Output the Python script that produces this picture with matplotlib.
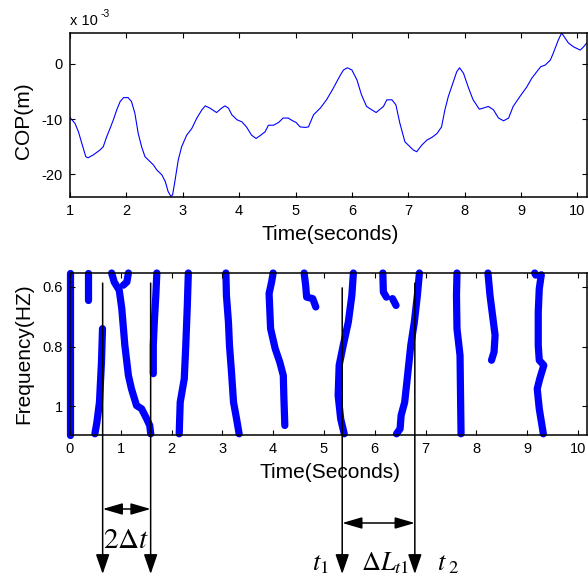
import matplotlib
matplotlib.use("Agg")
import matplotlib.pyplot as plt
import matplotlib.transforms as mtransforms

plt.rcParams["font.family"] = ["Liberation Sans", "DejaVu Sans"]
plt.rcParams["mathtext.fontset"] = "stix"
plt.rcParams["axes.unicode_minus"] = False

# COP trace (units of 1e-3 m)
cop_time = [1.00, 1.09, 1.15, 1.21, 1.28, 1.32, 1.41, 1.53, 1.59, 1.65, 1.71, 1.77, 1.83, 1.89,
            1.95, 2.03, 2.09, 2.15, 2.21, 2.27, 2.33, 2.39, 2.48, 2.54, 2.63, 2.69, 2.74, 2.79,
            2.82, 2.86, 2.92, 2.98, 3.07, 3.16, 3.25, 3.34, 3.40, 3.48, 3.60, 3.69, 3.75, 3.81,
            3.87, 3.96, 4.05, 4.13, 4.22, 4.30, 4.37, 4.46, 4.52, 4.61, 4.70, 4.78, 4.87, 4.95,
            5.01, 5.08, 5.17, 5.23, 5.32, 5.44, 5.55, 5.67, 5.78, 5.85, 5.92, 6.00, 6.09, 6.17,
            6.26, 6.35, 6.43, 6.50, 6.56, 6.62, 6.71, 6.78, 6.85, 6.94, 7.03, 7.09, 7.15, 7.24,
            7.33, 7.42, 7.51, 7.59, 7.65, 7.71, 7.80, 7.86, 7.91, 7.98, 8.07, 8.15, 8.26, 8.33,
            8.42, 8.51, 8.60, 8.69, 8.78, 8.86, 8.98, 9.10, 9.19, 9.28, 9.35, 9.43, 9.52, 9.57,
            9.66, 9.72, 9.78, 9.84, 9.93, 10.05, 10.11, 10.18]
cop_val = [-9.7, -10.8, -12.3, -14.4, -16.8, -17.0, -16.5, -15.6, -15.0, -13.2, -11.7, -10.1, -8.3, -6.8,
           -6.1, -6.1, -6.8, -8.9, -12.6, -15.0, -16.8, -17.4, -18.3, -19.2, -20.1, -21.3, -23.1, -24.0,
           -23.7, -21.3, -17.4, -15.0, -12.9, -11.7, -9.8, -8.3, -7.6, -8.0, -8.8, -8.0, -7.6, -8.0,
           -9.2, -10.1, -10.5, -11.4, -12.9, -13.5, -13.0, -12.3, -11.1, -11.1, -10.6, -9.8, -9.8, -10.3,
           -10.6, -11.4, -11.5, -11.4, -9.2, -8.0, -6.5, -4.4, -2.3, -1.1, -0.7, -1.1, -2.9, -5.6,
           -7.7, -8.3, -8.8, -8.2, -7.7, -6.5, -6.5, -7.4, -10.7, -14.1, -15.0, -15.6, -15.9, -14.7,
           -13.8, -13.3, -12.6, -11.4, -8.3, -5.9, -3.2, -1.4, -0.7, -1.7, -4.4, -6.5, -8.2, -8.0,
           -7.7, -8.3, -9.8, -10.3, -9.8, -7.7, -5.9, -4.2, -2.6, -1.4, -0.5, -0.2, 0.7, 1.9,
           4.3, 5.6, 4.7, 3.8, 3.1, 2.5, 3.1, 4.0]

# frequency ridges (time in s, frequency in Hz)
ridge_times = [
    [0.00, 0.00],
    [0.35, 0.35],
    [0.64, 0.62, 0.58, 0.53, 0.49],
    [0.82, 0.87, 0.97, 1.02, 1.08, 1.15, 1.21, 1.31, 1.41, 1.51, 1.57, 1.59],
    [1.15, 1.12, 1.05],
    [1.71, 1.69, 1.66, 1.64, 1.64],
    [2.33, 2.31, 2.28, 2.25, 2.17, 2.15],
    [3.07, 3.08, 3.12, 3.14, 3.18, 3.22, 3.28, 3.33],
    [4.00, 3.97, 3.92, 3.95, 4.04, 4.13, 4.20, 4.21, 4.23],
    [4.61, 4.64, 4.66, 4.78, 4.84],
    [5.58, 5.55, 5.48, 5.38, 5.30, 5.28, 5.33, 5.40],
    [6.16, 6.17, 6.23],
    [6.35, 6.42],
    [6.88, 6.84, 6.78, 6.71, 6.64, 6.59, 6.52, 6.50, 6.43],
    [7.62, 7.61, 7.62, 7.68, 7.69, 7.70],
    [8.23, 8.27, 8.32, 8.37, 8.35, 8.30],
    [9.15, 9.17],
    [9.28, 9.24, 9.22, 9.22, 9.24, 9.33, 9.25, 9.20, 9.24, 9.32],
]
ridge_freqs = [
    [0.553, 1.097],
    [0.553, 0.644],
    [0.740, 0.852, 0.987, 1.054, 1.093],
    [0.553, 0.583, 0.611, 0.673, 0.796, 0.897, 0.942, 0.998, 1.009, 1.043, 1.065, 1.093],
    [0.553, 0.583, 0.594],
    [0.553, 0.628, 0.718, 0.796, 0.891],
    [0.553, 0.662, 0.796, 0.908, 0.987, 1.093],
    [0.553, 0.628, 0.718, 0.796, 0.886, 0.987, 1.043, 1.093],
    [0.553, 0.583, 0.622, 0.740, 0.807, 0.852, 0.897, 0.964, 1.065],
    [0.553, 0.594, 0.634, 0.639, 0.667],
    [0.553, 0.628, 0.718, 0.796, 0.863, 0.964, 1.043, 1.093],
    [0.553, 0.617, 0.634],
    [0.639, 0.662],
    [0.553, 0.628, 0.718, 0.796, 0.908, 0.987, 1.031, 1.076, 1.093],
    [0.553, 0.628, 0.740, 0.830, 0.964, 1.093],
    [0.553, 0.628, 0.695, 0.762, 0.818, 0.846],
    [0.553, 0.560],
    [0.559, 0.606, 0.684, 0.796, 0.846, 0.863, 0.908, 0.942, 1.009, 1.093],
]

# marked instants
mark_times = [0.643, 1.588, 5.36, 6.79]
mark_start_freq = [0.587, 0.587, 0.603, 0.587]
span_pairs = [(0, 1), (2, 3)]
span_y_px = [509, 523]

W, H = 588, 582
fig = plt.figure(figsize=(W / 100, H / 100), dpi=100)
ax1 = fig.add_axes([70 / W, 1 - 197 / H, 517 / W, 164 / H])
ax2 = fig.add_axes([70 / W, 1 - 435 / H, 517 / W, 162 / H])

ax1.plot(cop_time, cop_val, color="#0000ff", lw=0.8)
ax1.set_xlim(1, 10.17)
ax1.set_ylim(min(cop_val) - 0.1, max(cop_val))
ax1.set_xticks(range(1, 11))
ax1.set_yticks([-20, -10, 0])
ax1.set_xlabel("Time(seconds)", fontsize=15)
ax1.set_ylabel("COP(m)", fontsize=15)
ax1.xaxis.set_label_coords(0.503, -0.17)
ax1.yaxis.set_label_coords(-0.072, 0.465)

for ts, fs in zip(ridge_times, ridge_freqs):
    ax2.plot(ts, fs, color="#0000ff", lw=5.2, solid_capstyle="round",
             solid_joinstyle="round", clip_on=False, zorder=1)
ax2.set_xlim(0, 10.18)
ax2.set_ylim(1.097, 0.553)
ax2.set_xticks(range(0, 11))
ax2.set_yticks([0.6, 0.8, 1.0])
ax2.set_yticklabels(["0.6", "0.8", "1"])
ax2.set_xlabel("Time(Seconds)", fontsize=15)
ax2.set_ylabel("Frequency(HZ)", fontsize=15)
ax2.xaxis.set_label_coords(0.503, -0.17)
ax2.yaxis.set_label_coords(-0.072, 0.5)

for ax in (ax1, ax2):
    ax.tick_params(direction="in", top=True, right=True, length=3.5, width=0.8,
                   labelsize=10.5, pad=5)
    for sp in ax.spines.values():
        sp.set_linewidth(1.1)
        sp.set_zorder(3)

fig.text(70 / W, 1 - 25 / H, "x 10", fontsize=10.5, ha="left", va="baseline")
fig.text(101 / W, 1 - 17 / H, "-3", fontsize=7.5, ha="left", va="baseline")

blend = mtransforms.blended_transform_factory(ax2.transData, fig.transFigure)
tip_y = 1 - 574 / H
for t, f0 in zip(mark_times, mark_start_freq):
    y0 = fig.transFigure.inverted().transform(ax2.transData.transform((t, f0)))[1]
    ax2.annotate("", xy=(t, tip_y), xycoords=blend, xytext=(t, y0), textcoords=blend,
                 annotation_clip=False,
                 arrowprops=dict(arrowstyle="-|>,head_length=1.1,head_width=0.38",
                                 mutation_scale=11, color="black", lw=1.1,
                                 shrinkA=0, shrinkB=0))

for (i, j), ypx in zip(span_pairs, span_y_px):
    y = 1 - ypx / H
    ax2.annotate("", xy=(mark_times[j], y), xycoords=blend, xytext=(mark_times[i], y),
                 textcoords=blend, annotation_clip=False,
                 arrowprops=dict(arrowstyle="<|-|>,head_length=1.1,head_width=0.32",
                                 mutation_scale=11, color="black", lw=1.1,
                                 shrinkA=0, shrinkB=0))

fig.text(103 / W, 1 - 548 / H, r"$2\Delta t$", fontsize=21, ha="left", va="baseline")
fig.text(312 / W, 1 - 570 / H, r"$t_1$", fontsize=19, ha="left", va="baseline")
fig.text(361 / W, 1 - 570 / H, r"$\Delta L_{t1}$", fontsize=19, ha="left", va="baseline")
fig.text(437 / W, 1 - 570 / H, r"$t_{\ 2}$", fontsize=19, ha="left", va="baseline")

fig.savefig("out.png", dpi=100)
